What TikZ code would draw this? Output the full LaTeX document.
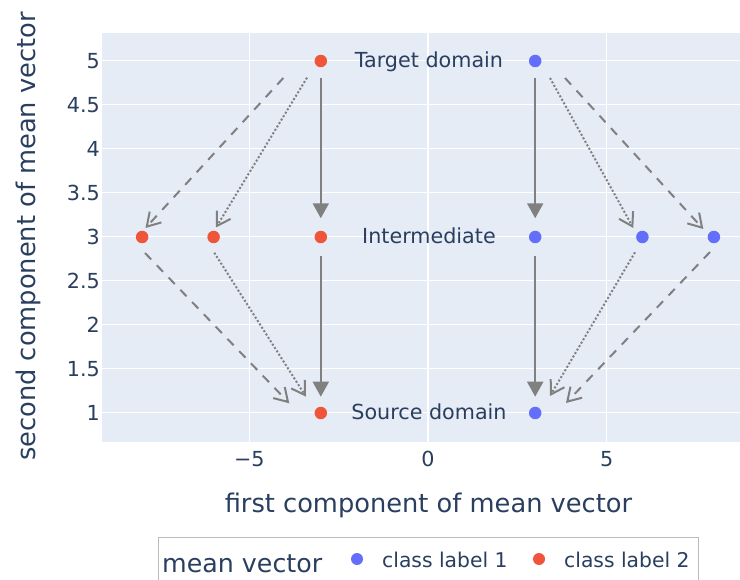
\documentclass[tikz,border=0pt]{standalone}
\usepackage{fontspec}
\setmainfont{DejaVu Sans}
\usetikzlibrary{arrows.meta}

\definecolor{plotbg}{HTML}{E5ECF6}
\definecolor{inktext}{HTML}{2A3F5F}
\definecolor{classone}{HTML}{636EFA}
\definecolor{classtwo}{HTML}{EF553B}
\definecolor{arrowgray}{HTML}{808080}
\definecolor{legendrule}{HTML}{BBBBBB}

\tikzset{
  ticklabel/.style={font=\fontsize{20.7}{24}\selectfont, text=inktext, inner sep=0pt},
  stagelabel/.style={font=\fontsize{20.7}{24}\selectfont, text=inktext, inner sep=0pt, anchor=base},
  axistitle/.style={font=\fontsize{25.7}{30}\selectfont, text=inktext, inner sep=0pt, anchor=base},
  legendtitle/.style={font=\fontsize{25.3}{30}\selectfont, text=inktext, inner sep=0pt, anchor=base west},
  legenditem/.style={font=\fontsize{20.3}{24}\selectfont, text=inktext, inner sep=0pt, anchor=base west},
  marker/.style={circle, inner sep=0pt, minimum size=12.5pt},
  redpt/.style={marker, fill=classtwo},
  bluept/.style={marker, fill=classone},
  gridline/.style={white, line width=1pt},
  zeroline/.style={white, line width=2pt},
  solidmove/.style={draw=arrowgray, line width=2pt,
    -{Triangle[length=15pt, width=16pt]}},
  dashmove/.style={draw=arrowgray, line width=2pt, dash pattern=on 9pt off 8pt,
    -{Straight Barb[length=13pt, width=16pt, line width=2pt]}},
  dotmove/.style={draw=arrowgray, line width=2pt, dash pattern=on 2pt off 2pt,
    -{Straight Barb[length=13pt, width=16pt, line width=2pt]}},
}

\begin{document}
\begin{tikzpicture}[x=1pt, y=-1pt]
  % canvas (pixel coordinates, y pointing down)
  \useasboundingbox (0,0) rectangle (740,580);
  \fill[white] (0,0) rectangle (740,580);

  % plot area
  \fill[plotbg] (102,33) rectangle (740,442);

  % horizontal grid lines (y = 1 ... 5 step 0.5)
  \foreach \py in {413,369,325,281,237,193,149,105,61}
    \draw[gridline] (102,\py) -- (740,\py);
  % vertical grid lines (x = -5, 5) and zero line
  \foreach \px in {249.3,606.7}
    \draw[gridline] (\px,33) -- (\px,442);
  \draw[zeroline] (428,33) -- (428,442);

  % y tick labels
  \foreach \py/\lab in {413/1,369/1.5,325/2,281/2.5,237/3,193/3.5,149/4,105/4.5,61/5}
    \node[ticklabel, anchor=base east] (ytick\py) at (100,\py+7.7) {\lab};
  % x tick labels
  \node[ticklabel, anchor=base] (xtickm5) at (249.3,466) {−5};
  \node[ticklabel, anchor=base] (xtick0) at (428,466) {0};
  \node[ticklabel, anchor=base] (xtick5) at (606.7,466) {5};

  % axis titles
  \node[axistitle] (xtitle) at (428.5,512) {first component of mean vector};
  \node[axistitle, rotate=90] (ytitle) at (35,236.5) {second component of mean vector};

  % stage labels
  \node[stagelabel] (lbltarget) at (429,67.5) {Target domain};
  \node[stagelabel] (lblinter) at (429,243.7) {Intermediate};
  \node[stagelabel] (lblsource) at (429,419.7) {Source domain};

  % arrow end points
  \coordinate (lsA) at (320.8,78);   \coordinate (lsB) at (320.8,218.3);
  \coordinate (lsC) at (320.8,256);  \coordinate (lsD) at (320.8,396.7);
  \coordinate (rsA) at (535.2,78);   \coordinate (rsB) at (535.2,218.3);
  \coordinate (rsC) at (535.2,256);  \coordinate (rsD) at (535.2,396.7);

  \coordinate (ldA) at (283.3,78);   \coordinate (ldB) at (145.5,228);
  \coordinate (loA) at (307,77.7);   \coordinate (loB) at (216,227.5);
  \coordinate (ldC) at (145,253);    \coordinate (ldD) at (289.3,403.3);
  \coordinate (loC) at (214.3,252.7);\coordinate (loD) at (306,396.7);

  \coordinate (roA) at (550,78);     \coordinate (roB) at (633.3,228);
  \coordinate (rdA) at (565,78);     \coordinate (rdB) at (703.3,229);
  \coordinate (roC) at (635,252.3);  \coordinate (roD) at (550,396);
  \coordinate (rdC) at (710,252);    \coordinate (rdD) at (566,403);

  % movements between stages
  \draw[solidmove] (lsA) -- (lsB);
  \draw[solidmove] (lsC) -- (lsD);
  \draw[solidmove] (rsA) -- (rsB);
  \draw[solidmove] (rsC) -- (rsD);

  \draw[dashmove] (ldA) -- (ldB);
  \draw[dotmove]  (loA) -- (loB);
  \draw[dashmove] (ldC) -- (ldD);
  \draw[dotmove]  (loC) -- (loD);

  \draw[dotmove]  (roA) -- (roB);
  \draw[dashmove] (rdA) -- (rdB);
  \draw[dotmove]  (roC) -- (roD);
  \draw[dashmove] (rdC) -- (rdD);

  % class label 2 means
  \node[redpt] (r1) at (142.1,237) {};
  \node[redpt] (r2) at (213.6,237) {};
  \node[redpt] (r3) at (320.8,237) {};
  \node[redpt] (r4) at (320.8,61) {};
  \node[redpt] (r5) at (320.8,413) {};
  % class label 1 means
  \node[bluept] (b1) at (535.2,61) {};
  \node[bluept] (b2) at (535.2,237) {};
  \node[bluept] (b3) at (535.2,413) {};
  \node[bluept] (b4) at (642.4,237) {};
  \node[bluept] (b5) at (713.9,237) {};

  % legend
  \draw[legendrule, line width=1pt] (158,582) -- (158,537) -- (698,537) -- (698,582);
  \node[legendtitle] (legtitle) at (162,572) {mean vector};
  \node[bluept, minimum size=12pt] (legblue) at (357,559) {};
  \node[legenditem] (legone) at (382,567) {class label 1};
  \node[redpt, minimum size=12pt] (legred) at (539,559) {};
  \node[legenditem] (legtwo) at (564,567) {class label 2};
\end{tikzpicture}
\end{document}
